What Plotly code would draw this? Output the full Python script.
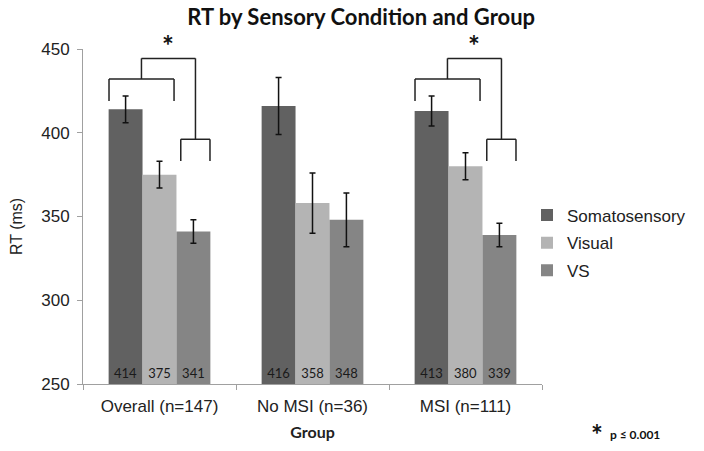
import plotly.graph_objects as go

# ---- data ----
groups = ["Overall (n=147)", "No MSI (n=36)", "MSI (n=111)"]
conditions = ["Somatosensory", "Visual", "VS"]
rt_somatosensory = [414, 416, 413]
rt_visual = [375, 358, 380]
rt_vs = [341, 348, 339]
err_somatosensory = [8, 17, 9]
err_visual = [8, 18, 8]
err_vs = [7, 16, 7]
colors = ["#616161", "#b4b4b4", "#858585"]
y_min, y_max = 250, 450

values = [rt_somatosensory, rt_visual, rt_vs]
errors = [err_somatosensory, err_visual, err_vs]

# significance brackets (group index, shown with star)
sig_groups = [0, 2]

fig = go.Figure()
for i, (name, vals, errs, col) in enumerate(zip(conditions, values, errors, colors)):
    fig.add_trace(go.Bar(
        name=name, x=groups, y=[v - y_min for v in vals], base=y_min,
        marker=dict(color=col, line=dict(width=0)),
        error_y=dict(type="data", array=errs, color="#111111", thickness=1.5, width=3),
        text=[str(v) for v in vals], textposition="inside", insidetextanchor="start",
        texttemplate="%{text}",
        insidetextfont=dict(family="Lato", size=13, color="#1a1a1a"),
        constraintext="none", legendgroup=name, hoverinfo="skip",
    ))

# brackets: offsets relative to group center
lw = dict(color="#222222", width=1.5)
for g in sig_groups:
    segs = [
        # lower-left bracket (Soma vs Visual)
        (g - 0.33, 419.0, g - 0.33, 432.1), (g - 0.33, 432.1, g + 0.095, 432.1), (g + 0.095, 432.1, g + 0.095, 419.0),
        # small bracket over VS
        (g + 0.139, 383.1, g + 0.139, 396.1), (g + 0.139, 396.1, g + 0.33, 396.1), (g + 0.33, 396.1, g + 0.33, 383.1),
        # top bracket
        (g - 0.118, 432.1, g - 0.118, 444.4), (g - 0.118, 444.4, g + 0.235, 444.4), (g + 0.235, 444.4, g + 0.235, 396.1),
    ]
    for x0, y0, x1, y1 in segs:
        fig.add_shape(type="line", xref="x", yref="y", x0=x0, y0=y0, x1=x1, y1=y1, line=lw)
    fig.add_annotation(x=g + 0.058, y=0.955, xref="x", yref="paper", text="<b>*</b>", showarrow=False,
                       font=dict(family="Lato", size=28, color="#111111"), xanchor="center", yanchor="bottom")

pl, pt, pw, ph = 83, 49, 459, 335
fig.add_annotation(x=(17 - pl) / pw, y=(384 - 227) / ph, xref="paper", yref="paper", text="RT (ms)", textangle=-90,
                   showarrow=False, xanchor="center", yanchor="middle",
                   font=dict(family="Liberation Sans", size=16, color="#222222"))
fig.add_annotation(x=(597 - pl) / pw, y=(384 - 434) / ph, xref="paper", yref="paper", text="<b>*</b>", showarrow=False,
                   xanchor="center", yanchor="middle", font=dict(family="Lato", size=28, color="#111111"))
fig.add_annotation(x=(635 - pl) / pw, y=(384 - 434) / ph, xref="paper", yref="paper", text="<b>p ≤ 0.001</b>",
                   showarrow=False, xanchor="center", yanchor="middle",
                   font=dict(family="Lato", size=12, color="#111111"))

fig.update_layout(
    width=704, height=451,
    margin=dict(l=83, r=162, t=49, b=67),
    paper_bgcolor="white", plot_bgcolor="white",
    barmode="group", bargap=0.335, bargroupgap=0,
    title=dict(text="<b>RT by Sensory Condition and Group</b>", x=0.513, xanchor="center", y=0.962, yanchor="middle",
               font=dict(family="Lato", size=22, color="#111111")),
    xaxis=dict(type="category", showline=True, linecolor="#a0a0a0", linewidth=1, ticks="outside",
               tickson="boundaries", ticklen=5, tickcolor="#a0a0a0", showgrid=False, ticklabelstandoff=7,
               tickfont=dict(family="Liberation Sans", size=17, color="#222222"),
               title=dict(text="<b>Group</b>", font=dict(family="Lato", size=16, color="#222222"), standoff=11)),
    yaxis=dict(range=[y_min, y_max], dtick=50, showline=True, linecolor="#a0a0a0", linewidth=1, ticks="outside",
               ticklen=5, tickcolor="#a0a0a0", showgrid=False, zeroline=False, ticklabelstandoff=4,
               tickfont=dict(family="Liberation Sans", size=17, color="#222222")),
    legend=dict(x=(527 - 83) / 459, xanchor="left", y=(384 - 197.5) / 335, yanchor="top",
                font=dict(family="Liberation Sans", size=17, color="#222222"), tracegroupgap=2.5,
                bgcolor="rgba(0,0,0,0)"),
    showlegend=True,
)

fig.write_html("out.html", config={"displayModeBar": False},
               post_script="document.body.style.margin='0';document.body.style.padding='0';")
